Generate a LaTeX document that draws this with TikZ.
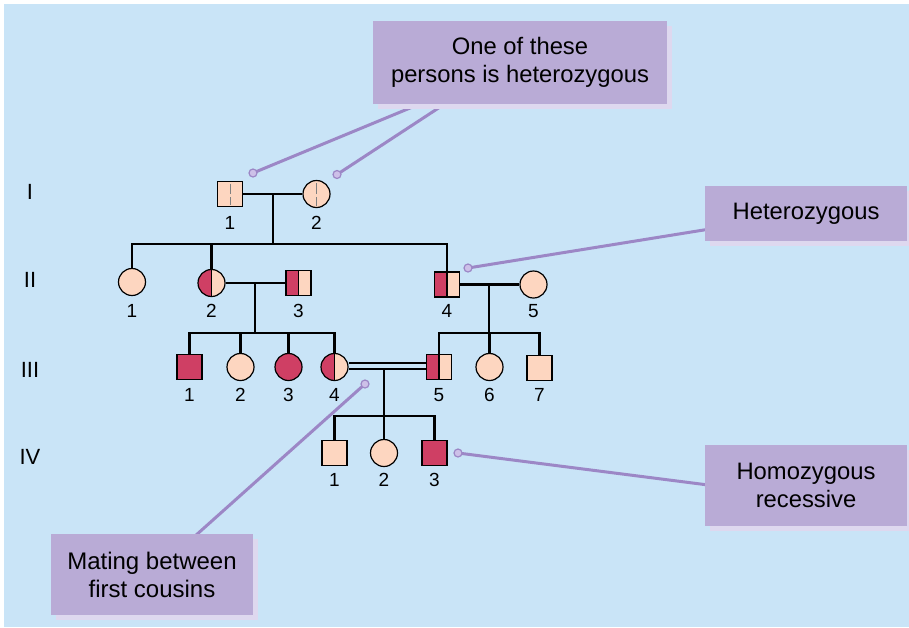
\documentclass[tikz,border=0pt]{standalone}
\usepackage{fontspec}
\setmainfont{Liberation Sans}
\usetikzlibrary{shadows}
\definecolor{bgblue}{RGB}{201,228,247}
\definecolor{peach}{RGB}{253,214,192}
\definecolor{crim}{RGB}{207,63,100}
\definecolor{boxlav}{RGB}{185,171,214}
\definecolor{shadelav}{RGB}{222,216,239}
\definecolor{callpurple}{RGB}{156,135,198}
\definecolor{dotfill}{RGB}{205,192,232}
\pgfdeclarelayer{bg}
\pgfdeclarelayer{lines}
\pgfsetlayers{bg,lines,main}
\begin{document}
\begin{tikzpicture}[x=1pt,y=1pt,
  sym/.style={draw=black, line width=1.2pt, fill=peach, inner sep=0pt},
  male/.style={sym, rectangle, minimum size=25pt},
  female/.style={sym, circle, minimum size=27pt},
  affected/.style={fill=crim},
  halfaff/.style={path picture={
      \fill[crim] (path picture bounding box.south west) rectangle (path picture bounding box.north);
      \draw[line width=1.2pt] (path picture bounding box.south) -- (path picture bounding box.north);}},
  carrierdash/.style={path picture={
      \draw[gray, line width=0.9pt]
        ([yshift=-2pt]path picture bounding box.north) -- ([yshift=0.5pt]path picture bounding box.center)
        ([yshift=-3pt]path picture bounding box.center) -- ([yshift=2pt]path picture bounding box.south);}},
  ped/.style={line width=2.5pt, line join=miter},
  wed/.style={line width=1.8pt},
  num/.style={inner sep=0pt, font=\fontsize{19}{19}\selectfont},
  gen/.style={inner sep=0pt, font=\fontsize{22}{22}\selectfont},
  callout/.style={fill=boxlav, inner sep=0pt, align=center,
      general shadow={fill=shadelav, shadow xshift=5pt, shadow yshift=-5pt}},
  callline/.style={draw=callpurple, line width=3pt},
  calldot/.style={circle, draw=callpurple, fill=dotfill, line width=1.2pt, minimum size=8pt, inner sep=0pt}
]
\useasboundingbox (0,0) rectangle (909,-627);
\begin{pgfonlayer}{bg}
  \fill[bgblue] (4,-4) rectangle (909,-627);
\end{pgfonlayer}

% generation labels
\node[gen] (gI)   at (30,-192) {I};
\node[gen] (gII)  at (30,-280) {II};
\node[gen] (gIII) at (30,-370) {III};
\node[gen] (gIV)  at (30,-457) {IV};

% generation I
\node[male, carrierdash]   (I1) at (230,-194) {};
\node[female, carrierdash] (I2) at (316.5,-194) {};
\node[num] (nI1) at (230,-223) {1};
\node[num] (nI2) at (316.5,-223) {2};

% generation II
\node[female]           (II1) at (132,-282) {};
\node[female, halfaff]  (II2) at (211.5,-283) {};
\node[male, halfaff]    (II3) at (298.5,-283) {};
\node[male, halfaff]    (II4) at (447,-284.5) {};
\node[female]           (II5) at (533.5,-284.5) {};
\node[num] (nII1) at (132,-311) {1};
\node[num] (nII2) at (211.5,-311) {2};
\node[num] (nII3) at (298.5,-311) {3};
\node[num] (nII4) at (447,-311) {4};
\node[num] (nII5) at (533.5,-311) {5};

% generation III
\node[male, affected]   (III1) at (189.5,-367) {};
\node[female]           (III2) at (240.5,-367) {};
\node[female, affected] (III3) at (288.5,-367) {};
\node[female, halfaff]  (III4) at (334.5,-367) {};
\node[male, halfaff]    (III5) at (439,-367) {};
\node[female]           (III6) at (489.5,-367) {};
\node[male]             (III7) at (539.5,-368) {};
\node[num] (nIII1) at (189.5,-395) {1};
\node[num] (nIII2) at (240.5,-395) {2};
\node[num] (nIII3) at (288.5,-395) {3};
\node[num] (nIII4) at (334.5,-395) {4};
\node[num] (nIII5) at (439,-395) {5};
\node[num] (nIII6) at (489.5,-395) {6};
\node[num] (nIII7) at (539.5,-395) {7};

% generation IV
\node[male]           (IV1) at (334.5,-453) {};
\node[female]         (IV2) at (384,-453) {};
\node[male, affected] (IV3) at (434.5,-453) {};
\node[num] (nIV1) at (334.5,-480) {1};
\node[num] (nIV2) at (384,-480) {2};
\node[num] (nIV3) at (434.5,-480) {3};

% matings and sibships
\coordinate (mI)    at (273,-194);
\coordinate (sII)   at (273,-244);
\draw[ped] (I1) -- (I2);
\draw[ped] (mI) -- (sII);
\draw[ped] (II1.north) |- (sII) -| (II4.north);
\draw[ped] (II2.north) -- (II2.north |- sII);

\coordinate (mIIa)  at (255,-283);
\coordinate (sIIIa) at (255,-333);
\draw[ped] (II2) -- (II3);
\draw[ped] (mIIa) -- (sIIIa);
\draw[ped] (III1.north) |- (sIIIa) -| (III4.north);
\draw[ped] (III2.north) -- (III2.north |- sIIIa);
\draw[ped] (III3.north) -- (III3.north |- sIIIa);

\coordinate (mIIb)  at (489,-284.5);
\coordinate (sIIIb) at (489,-333);
\draw[ped] (II4) -- (II5);
\draw[ped] (mIIb) -- (sIIIb);
\draw[ped] (III5.north) |- (sIIIb) -| (III7.north);
\draw[ped] (III6.north) -- (III6.north |- sIIIb);

% consanguineous mating
\draw[wed] ([yshift=4pt]III4.east) -- ([yshift=4pt]III5.west);
\draw[wed] ([yshift=-2pt]III4.east) -- ([yshift=-2pt]III5.west);
\coordinate (mIII) at (384,-369);
\coordinate (sIV)  at (384,-416);
\draw[ped] (mIII) -- (sIV);
\draw[ped] (IV1.north) |- (sIV) -| (IV3.north);
\draw[ped] (IV2.north) -- (IV2.north |- sIV);

% callout boxes
\node[callout, minimum width=294pt, minimum height=83pt] (cA) at (520,-62.5)
  {\begin{minipage}{290pt}\centering\fontsize{23.8}{28}\selectfont One of these\\persons is heterozygous\end{minipage}};
\node[callout, minimum width=202pt, minimum height=55pt] (cB) at (806,-213.5)
  {\fontsize{23.8}{28}\selectfont Heterozygous};
\node[callout, minimum width=202pt, minimum height=81pt] (cC) at (806,-485.5)
  {\begin{minipage}{198pt}\centering\fontsize{23.8}{28}\selectfont Homozygous\\recessive\end{minipage}};
\node[callout, minimum width=202pt, minimum height=81pt] (cD) at (152,-574.5)
  {\begin{minipage}{198pt}\centering\fontsize{24}{28}\selectfont Mating between\\first cousins\end{minipage}};

% callout pointers
\node[calldot] (dA1) at (253,-173) {};
\node[calldot] (dA2) at (337,-174.5) {};
\node[calldot] (dB)  at (468,-268) {};
\node[calldot] (dC)  at (458,-453) {};
\node[calldot] (dD)  at (365,-384) {};
\begin{pgfonlayer}{lines}
  \draw[callline] (dA1.center) -- (cA.center);
  \draw[callline] (dA2.center) -- ([xshift=-12pt]cA.center);
  \draw[callline] (dB.center)  -- (cB.center);
  \draw[callline] (dC.center)  -- ([yshift=-12pt]cC.center);
  \draw[callline] (dD.center)  -- (cD.center);
\end{pgfonlayer}
\end{tikzpicture}
\end{document}
